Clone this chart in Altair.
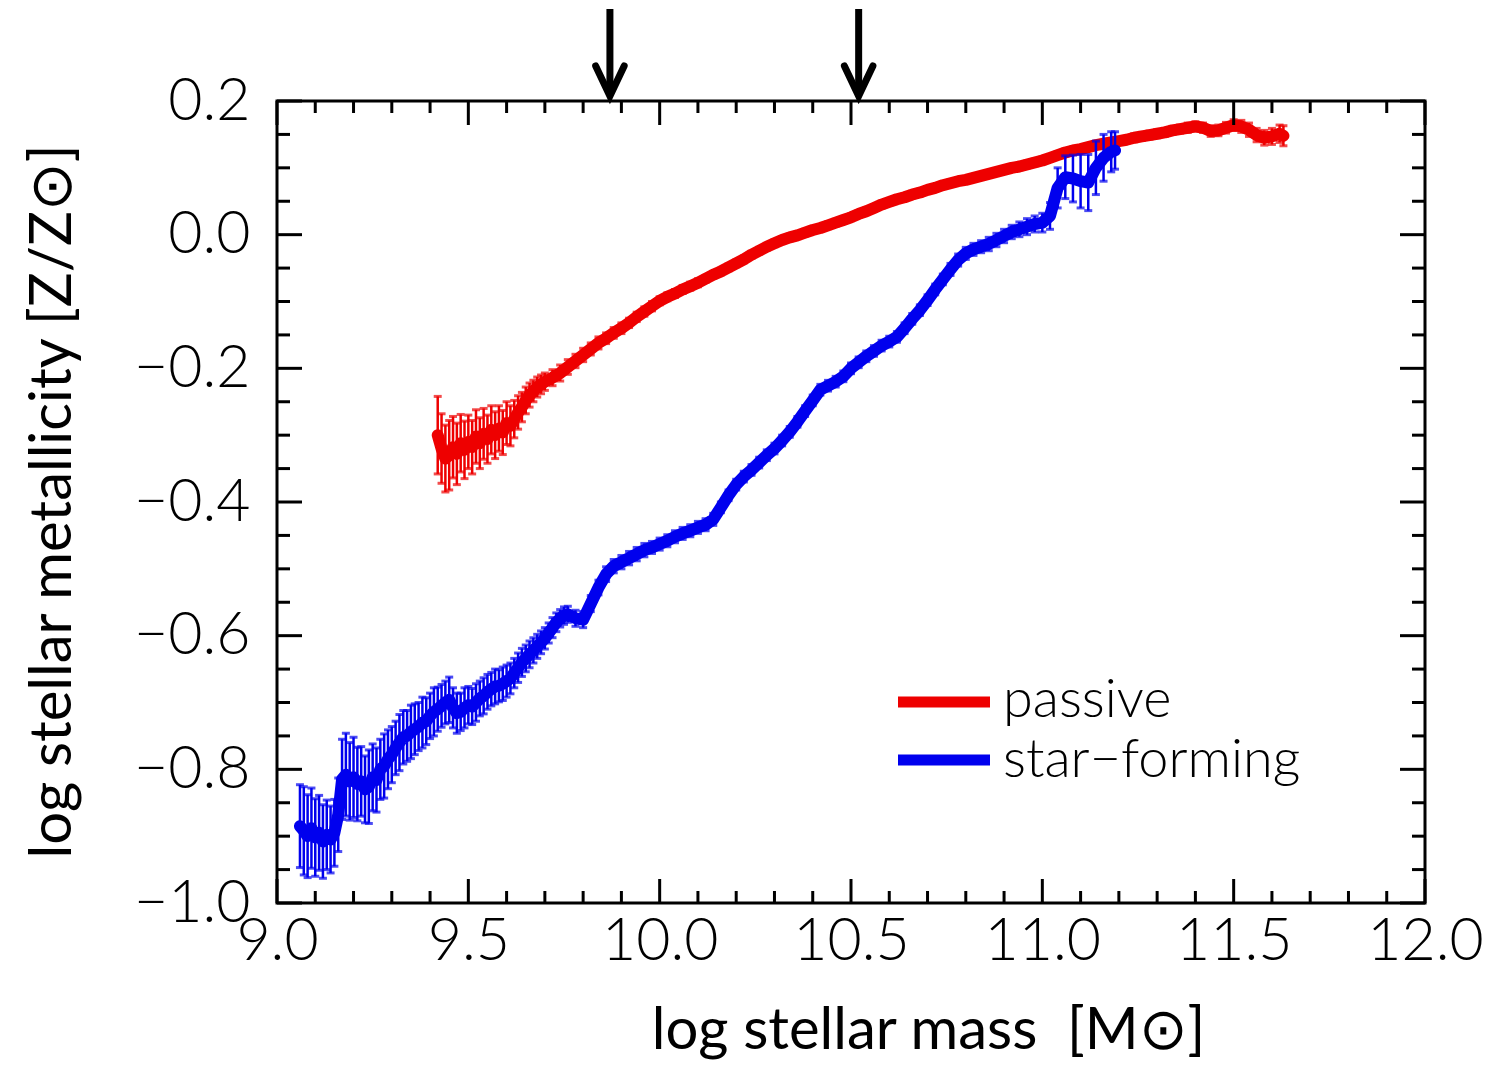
import altair as alt
import pandas as pd

# ---------------- data ----------------
red_x = [9.42, 9.43, 9.44, 9.45, 9.46, 9.47, 9.48, 9.49, 9.50,
         9.51, 9.52, 9.53, 9.54, 9.55, 9.56, 9.57, 9.58, 9.59, 9.60,
         9.61, 9.62, 9.63, 9.64, 9.65, 9.66, 9.67, 9.68, 9.69, 9.70,
         9.72, 9.74, 9.76, 9.78, 9.80,
         9.82, 9.84, 9.86, 9.88, 9.90, 9.92, 9.94, 9.96, 9.98, 10.00,
         10.02, 10.04, 10.06, 10.08, 10.10, 10.12, 10.14, 10.16, 10.18, 10.20,
         10.22, 10.24, 10.26, 10.28, 10.30, 10.32, 10.34, 10.36, 10.38, 10.40,
         10.42, 10.44, 10.46, 10.48, 10.50, 10.52, 10.54, 10.56, 10.58, 10.60,
         10.62, 10.64, 10.66, 10.68, 10.70, 10.72, 10.74, 10.76, 10.78, 10.80,
         10.82, 10.84, 10.86, 10.88, 10.90, 10.92, 10.94, 10.96, 10.98, 11.00,
         11.02, 11.04, 11.06, 11.08, 11.10, 11.12, 11.14, 11.16, 11.18, 11.20,
         11.22, 11.24, 11.26, 11.28, 11.30, 11.32, 11.34, 11.36, 11.38, 11.40,
         11.42, 11.44, 11.46, 11.48, 11.50, 11.52, 11.54, 11.56, 11.58, 11.60, 11.62,
         11.63]
red_y = [-0.300, -0.320, -0.335, -0.330, -0.318, -0.328, -0.312, -0.322, -0.310,
         -0.318, -0.302, -0.312, -0.298, -0.306, -0.292, -0.300, -0.290, -0.296, -0.282,
         -0.286, -0.276, -0.266, -0.258, -0.248, -0.240, -0.234, -0.228, -0.224, -0.220,
         -0.214, -0.207, -0.198, -0.189, -0.180,
         -0.171, -0.162, -0.155, -0.147, -0.140, -0.132, -0.123, -0.115, -0.107, -0.099,
         -0.093, -0.088, -0.082, -0.077, -0.072, -0.066, -0.060, -0.055, -0.049, -0.043,
         -0.037, -0.030, -0.024, -0.018, -0.013, -0.008, -0.004, -0.001, 0.003, 0.007,
         0.010, 0.014, 0.018, 0.022, 0.026, 0.031, 0.035, 0.040, 0.045, 0.049,
         0.053, 0.056, 0.060, 0.063, 0.067, 0.070, 0.074, 0.077, 0.080, 0.082,
         0.085, 0.088, 0.091, 0.094, 0.097, 0.100, 0.102, 0.105, 0.108, 0.111,
         0.115, 0.119, 0.123, 0.126, 0.128, 0.131, 0.134, 0.136, 0.138, 0.140,
         0.142, 0.145, 0.147, 0.149, 0.151, 0.153, 0.156, 0.158, 0.160, 0.162,
         0.160, 0.155, 0.156, 0.160, 0.164, 0.162, 0.157, 0.149, 0.145, 0.147, 0.151,
         0.148]
red_err = [0.058, 0.052, 0.050, 0.052, 0.046, 0.046, 0.043, 0.043, 0.040,
           0.040, 0.040, 0.038, 0.038, 0.036, 0.036, 0.035, 0.034, 0.033, 0.032,
           0.030, 0.028, 0.025, 0.022, 0.020, 0.018, 0.016, 0.015, 0.014, 0.013,
           0.012, 0.012, 0.011, 0.010, 0.010,
           0.009, 0.009, 0.008, 0.008, 0.008, 0.007, 0.007, 0.007, 0.007, 0.006,
           0.006, 0.006, 0.006, 0.006, 0.006, 0.005, 0.005, 0.005, 0.005, 0.005,
           0.005, 0.005, 0.005, 0.005, 0.005, 0.005, 0.005, 0.005, 0.005, 0.005,
           0.005, 0.005, 0.005, 0.005, 0.005, 0.005, 0.005, 0.005, 0.005, 0.005,
           0.005, 0.005, 0.005, 0.005, 0.005, 0.005, 0.005, 0.005, 0.005, 0.005,
           0.005, 0.005, 0.005, 0.005, 0.005, 0.005, 0.005, 0.005, 0.005, 0.005,
           0.005, 0.005, 0.005, 0.005, 0.005, 0.005, 0.005, 0.005, 0.005, 0.005,
           0.005, 0.006, 0.006, 0.006, 0.006, 0.006, 0.006, 0.006, 0.007, 0.007,
           0.007, 0.008, 0.008, 0.008, 0.008, 0.009, 0.010, 0.010, 0.011, 0.012, 0.013,
           0.015]

blue_x = [9.06, 9.07, 9.08, 9.09, 9.10,
          9.11, 9.12, 9.13, 9.14, 9.15, 9.16, 9.17, 9.18, 9.19, 9.20,
          9.21, 9.22, 9.23, 9.24, 9.25, 9.26, 9.27, 9.28, 9.29, 9.30,
          9.31, 9.32, 9.33, 9.34, 9.35, 9.36, 9.37, 9.38, 9.39, 9.40,
          9.41, 9.42, 9.43, 9.44, 9.45, 9.46, 9.47, 9.48, 9.49, 9.50,
          9.51, 9.52, 9.53, 9.54, 9.55, 9.56, 9.57, 9.58, 9.59, 9.60,
          9.61, 9.62, 9.63, 9.64, 9.65, 9.66, 9.67, 9.68, 9.69, 9.70,
          9.71, 9.72, 9.73, 9.74, 9.75, 9.76,
          9.78, 9.80,
          9.82, 9.84, 9.86, 9.88, 9.90, 9.92, 9.94, 9.96, 9.98, 10.00,
          10.02, 10.04, 10.06, 10.08, 10.10, 10.12, 10.14, 10.16, 10.18, 10.20,
          10.22, 10.24, 10.26, 10.28, 10.30, 10.32, 10.34, 10.36, 10.38, 10.40,
          10.42, 10.44, 10.46, 10.48, 10.50, 10.52, 10.54, 10.56, 10.58, 10.60,
          10.62, 10.64, 10.66, 10.68, 10.70, 10.72, 10.74, 10.76, 10.78, 10.80,
          10.82, 10.84, 10.86, 10.88, 10.90, 10.92, 10.94, 10.96, 10.98, 11.00,
          11.02, 11.04, 11.06, 11.08, 11.10, 11.12, 11.14, 11.16, 11.18,
          11.19]
blue_y = [-0.885, -0.892, -0.900, -0.888, -0.902,
          -0.895, -0.908, -0.898, -0.905, -0.895, -0.868, -0.815, -0.808, -0.818, -0.812,
          -0.822, -0.818, -0.830, -0.826, -0.812, -0.816, -0.800, -0.795, -0.785, -0.778,
          -0.768, -0.760, -0.752, -0.750, -0.744, -0.740, -0.736, -0.730, -0.728, -0.720,
          -0.714, -0.710, -0.705, -0.700, -0.696, -0.708, -0.716, -0.714, -0.708, -0.704,
          -0.706, -0.700, -0.694, -0.690, -0.684, -0.680, -0.676, -0.675, -0.672, -0.668,
          -0.664, -0.656, -0.648, -0.640, -0.634, -0.628, -0.622, -0.616, -0.610, -0.604,
          -0.596, -0.588, -0.580, -0.574, -0.570, -0.568,
          -0.574, -0.576,
          -0.552, -0.528, -0.508, -0.496, -0.490, -0.484, -0.478, -0.472, -0.468, -0.463,
          -0.458, -0.452, -0.447, -0.443, -0.438, -0.434, -0.426, -0.408, -0.390, -0.374,
          -0.362, -0.352, -0.341, -0.330, -0.320, -0.308, -0.295, -0.280, -0.264, -0.248,
          -0.232, -0.226, -0.220, -0.212, -0.200, -0.191, -0.182, -0.174, -0.166, -0.160,
          -0.153, -0.140, -0.126, -0.113, -0.098, -0.082, -0.067, -0.052, -0.038, -0.028,
          -0.022, -0.018, -0.014, -0.008, -0.002, 0.004, 0.008, 0.012, 0.016, 0.018,
          0.028, 0.070, 0.086, 0.084, 0.080, 0.078, 0.100, 0.115, 0.124,
          0.126]
blue_err = [0.062, 0.066, 0.062, 0.060, 0.058,
            0.056, 0.055, 0.052, 0.050, 0.050, 0.055, 0.060, 0.062, 0.058, 0.060,
            0.055, 0.052, 0.050, 0.055, 0.050, 0.048, 0.045, 0.048, 0.044, 0.042,
            0.040, 0.042, 0.040, 0.038, 0.040, 0.038, 0.036, 0.038, 0.035, 0.034,
            0.036, 0.033, 0.032, 0.032, 0.034, 0.030, 0.030, 0.028, 0.030, 0.028,
            0.027, 0.028, 0.026, 0.027, 0.026, 0.025, 0.026, 0.024, 0.025, 0.024,
            0.023, 0.022, 0.022, 0.021, 0.020, 0.020, 0.019, 0.018, 0.017, 0.016,
            0.015, 0.015, 0.014, 0.013, 0.013, 0.012,
            0.012, 0.012,
            0.012, 0.011, 0.011, 0.010, 0.010, 0.010, 0.010, 0.010, 0.009, 0.009,
            0.009, 0.009, 0.009, 0.009, 0.009, 0.009, 0.009, 0.008, 0.008, 0.008,
            0.008, 0.008, 0.008, 0.008, 0.008, 0.008, 0.008, 0.008, 0.008, 0.008,
            0.008, 0.008, 0.008, 0.008, 0.008, 0.008, 0.008, 0.008, 0.008, 0.008,
            0.008, 0.008, 0.008, 0.008, 0.008, 0.008, 0.008, 0.009, 0.009, 0.009,
            0.009, 0.009, 0.010, 0.010, 0.010, 0.010, 0.011, 0.012, 0.012, 0.014,
            0.020, 0.030, 0.032, 0.035, 0.040, 0.042, 0.040, 0.035, 0.030,
            0.028]

arrow_x = [9.87, 10.52]

x_major = [9.0, 9.5, 10.0, 10.5, 11.0, 11.5, 12.0]
x_minor = [9.1, 9.2, 9.3, 9.4, 9.6, 9.7, 9.8, 9.9,
           10.1, 10.2, 10.3, 10.4, 10.6, 10.7, 10.8, 10.9,
           11.1, 11.2, 11.3, 11.4, 11.6, 11.7, 11.8, 11.9]
y_major = [-1.0, -0.8, -0.6, -0.4, -0.2, 0.0, 0.2]
y_minor = [-0.95, -0.9, -0.85, -0.75, -0.7, -0.65, -0.55, -0.5, -0.45,
           -0.35, -0.3, -0.25, -0.15, -0.1, -0.05, 0.05, 0.1, 0.15]

legend_labels = ["passive", "star\u2212forming"]
RED = "#ee0000"
BLUE = "#0000ee"

assert len(red_x) == len(red_y) == len(red_err)
assert len(blue_x) == len(blue_y) == len(blue_err)

# ---------------- layout ----------------
W, H = 1148, 802
LABEL_FONT = "Lato"
TITLE_FONT = "Lato"

xs = alt.Scale(domain=[9.0, 12.0], nice=False, zero=False)
ys = alt.Scale(domain=[-1.0, 0.2], nice=False, zero=False)

x_axis = alt.Axis(values=x_major, format=".1f", ticks=False, tickSize=0, domain=False,
                  grid=False, labelFont=LABEL_FONT, labelFontWeight=300, labelFontSize=59,
                  labelColor="black", labelPadding=9, labelFlush=False, labelOverlap=False,
                  title="log stellar mass\u00a0\u00a0[M\u2299]", titleFont=TITLE_FONT,
                  titleFontSize=58, titleFontWeight="normal", titleColor="black",
                  titleX=651, titleY=145, titleAlign="center", titleBaseline="alphabetic")
y_axis = alt.Axis(values=y_major, format=".1f", ticks=False, tickSize=0, domain=False,
                  grid=False, labelFont=LABEL_FONT, labelFontWeight=300, labelFontSize=59,
                  labelColor="black", labelPadding=27, labelFlush=False, labelOverlap=False,
                  title="log stellar metallicity [Z/Z\u2299]", titleFont=TITLE_FONT,
                  titleFontSize=58, titleFontWeight="normal", titleColor="black",
                  titleX=-207, titleY=400, titleAngle=270, titleAlign="center",
                  titleBaseline="alphabetic")


def X(field="x"):
    return alt.X(f"{field}:Q", scale=xs, axis=x_axis)


def Y(field="y"):
    return alt.Y(f"{field}:Q", scale=ys, axis=y_axis)


def series_layers(xv, yv, ev, color):
    df = pd.DataFrame({"x": xv, "y": yv,
                       "lo": [a - b for a, b in zip(yv, ev)],
                       "hi": [a + b for a, b in zip(yv, ev)]})
    base = alt.Chart(df)
    bars = base.mark_rule(color=color, strokeWidth=2.5).encode(x=X(), y=Y("lo"), y2="hi:Q")
    cap_lo = base.mark_tick(color=color, orient="horizontal", size=8, thickness=3).encode(
        x=X(), y=Y("lo"))
    cap_hi = base.mark_tick(color=color, orient="horizontal", size=8, thickness=3).encode(
        x=X(), y=Y("hi"))
    line = base.mark_line(color=color, strokeWidth=12, strokeJoin="round",
                          strokeCap="round").encode(x=X(), y=Y())
    return [bars, cap_lo, cap_hi, line]


# ticks drawn inward (axis frame)
xmaj = alt.Chart(pd.DataFrame({"x": x_major}))
xmin = alt.Chart(pd.DataFrame({"x": x_minor}))
ymaj = alt.Chart(pd.DataFrame({"y": y_major}))
ymin = alt.Chart(pd.DataFrame({"y": y_minor}))
TW = 3
tick_layers = [
    xmaj.mark_rule(color="black", strokeWidth=TW).encode(x=X(), y=alt.value(H), y2=alt.value(H - 24)),
    xmaj.mark_rule(color="black", strokeWidth=TW).encode(x=X(), y=alt.value(0), y2=alt.value(24)),
    xmin.mark_rule(color="black", strokeWidth=TW).encode(x=X(), y=alt.value(H), y2=alt.value(H - 12)),
    xmin.mark_rule(color="black", strokeWidth=TW).encode(x=X(), y=alt.value(0), y2=alt.value(12)),
    ymaj.mark_rule(color="black", strokeWidth=TW).encode(y=Y(), x=alt.value(0), x2=alt.value(25)),
    ymaj.mark_rule(color="black", strokeWidth=TW).encode(y=Y(), x=alt.value(W), x2=alt.value(W - 25)),
    ymin.mark_rule(color="black", strokeWidth=TW).encode(y=Y(), x=alt.value(0), x2=alt.value(13)),
    ymin.mark_rule(color="black", strokeWidth=TW).encode(y=Y(), x=alt.value(W), x2=alt.value(W - 13)),
]

# arrows above the frame: thick shaft + open V head
arr = alt.Chart(pd.DataFrame({"x": arrow_x}))
arrow_head = "M-0.95,-1 L0,1 L0.95,-1"
arrow_layers = [
    arr.mark_rule(color="black", strokeWidth=7, strokeCap="butt").encode(
        x=X(), y=alt.value(-92), y2=alt.value(-6)),
    arr.mark_point(shape=arrow_head, filled=False, color="black", opacity=1, size=900,
                   strokeWidth=7, strokeCap="round", strokeJoin="miter").encode(
        x=X(), y=alt.value(-20)),
]

# legend drawn inside the plot
leg_df = pd.DataFrame({"label": legend_labels})
leg_r = alt.Chart(leg_df.iloc[[0]])
leg_b = alt.Chart(leg_df.iloc[[1]])
legend_layers = [
    leg_r.mark_rule(color=RED, strokeWidth=11).encode(x=alt.value(621), x2=alt.value(713), y=alt.value(601)),
    leg_b.mark_rule(color=BLUE, strokeWidth=11).encode(x=alt.value(621), x2=alt.value(713), y=alt.value(659)),
    leg_r.mark_text(align="left", baseline="alphabetic", font=LABEL_FONT, fontWeight=300,
                    fontSize=54, color="black").encode(text="label:N", x=alt.value(726), y=alt.value(616)),
    leg_b.mark_text(align="left", baseline="alphabetic", font=LABEL_FONT, fontWeight=300,
                    fontSize=54, color="black").encode(text="label:N", x=alt.value(726), y=alt.value(676)),
]

layers = (series_layers(red_x, red_y, red_err, RED)
          + series_layers(blue_x, blue_y, blue_err, BLUE)
          + tick_layers + arrow_layers + legend_layers)

chart = alt.layer(*layers).properties(
    width=W, height=H,
    padding={"left": 269, "top": 93, "right": 73, "bottom": 164},
    autosize=alt.AutoSizeParams(type="none"),
    background="white",
).configure_view(stroke="black", strokeWidth=3)

chart.save("out.html", embed_options={"renderer": "svg", "actions": False})
